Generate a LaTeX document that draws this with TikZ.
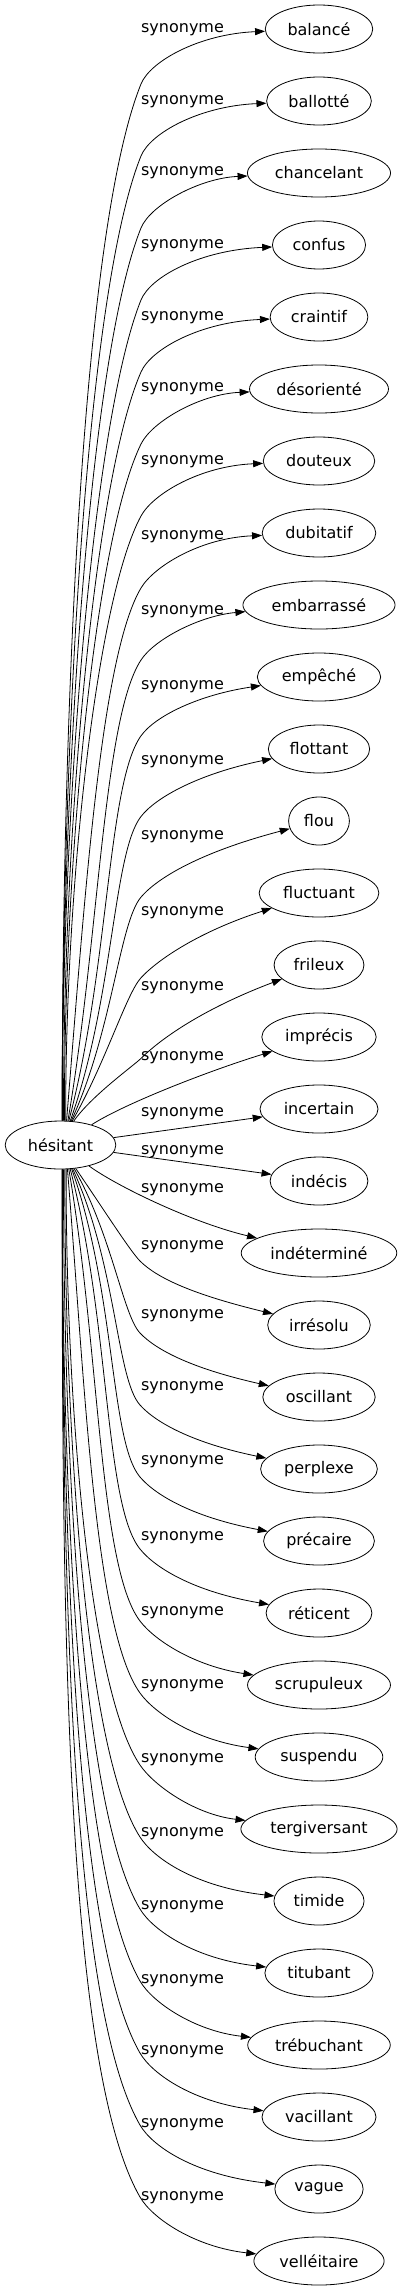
\documentclass[tikz,border=0pt]{standalone}
\usepackage{fontspec}
\setmainfont{DejaVu Sans}
\usetikzlibrary{arrows.meta,shapes.geometric}
\begin{document}
\begin{tikzpicture}[x=1pt,y=-1pt,
  word/.style={draw, ellipse, line width=0.8pt, inner xsep=6.5pt, inner ysep=2pt,
    minimum height=48pt, font=\fontsize{16}{19}\selectfont},
  lab/.style={font=\fontsize{16}{19}\selectfont, inner sep=0pt},
  link/.style={line width=0.8pt, -{Triangle[length=10pt,width=7pt]}}]
\useasboundingbox (0,0) rectangle (403,2291);
\node[word] (h) at (60.5,1145) {hésitant};
\foreach \i/\txt/\ly in {0/balancé/30, 1/ballotté/102, 2/chancelant/173, 3/confus/246,
  4/craintif/318, 5/désorienté/389, 6/douteux/462, 7/dubitatif/537, 8/embarrassé/612,
  9/empêché/687, 10/flottant/762, 11/flou/837, 12/fluctuant/913, 13/frileux/988,
  14/imprécis/1058, 15/incertain/1114, 16/indécis/1152, 17/indéterminé/1190,
  18/irrésolu/1247, 19/oscillant/1316, 20/perplexe/1388, 21/précaire/1462,
  22/réticent/1538, 23/scrupuleux/1613, 24/suspendu/1686, 25/tergiversant/1760,
  26/timide/1834, 27/titubant/1907, 28/trébuchant/1981, 29/vacillant/2052,
  30/vague/2125, 31/velléitaire/2198} {
  \node[word] (n\i) at (319,{29+72*\i}) {\txt};
  \node[lab] (l\i) at (182.5,\ly) {synonyme};
}
% upper edges
\foreach \i in {0,...,13} {
  \pgfmathsetmacro\myyT{29+72*\i}
  \pgfmathsetmacro\myA{1145-\myyT}
  \pgfmathsetmacro\myKy{\myyT+55+0.12*max(0,500-\myA)}
  \pgfmathsetmacro\myth{45+23*min(1,(\myA-180)/700)}
  \pgfmathsetmacro\mys{1.5+11*max(0,(900-\myA)/720)}
  \pgfmathsetmacro\myry{24*sqrt(1-(\mys/56.5)^2)}
  \pgfmathsetmacro\myal{atan2(\myry,\mys)}
  \pgfmathsetmacro\mySy{1145-\myry}
  \pgfmathsetmacro\mySx{60.5+\mys}
  \pgfmathsetmacro\myHh{\mySy-\myKy}
  \pgfmathsetmacro\mybe{55+35*min(1,(\myA-180)/500)}
  \pgfmathsetmacro\myCax{\mySx+0.4*\myHh*cos(\mybe)/sin(\mybe)}
  \pgfmathsetmacro\myCay{\mySy-0.4*\myHh}
  \pgfmathsetmacro\myCbx{141-0.15*\myHh*cos(\myth)}
  \pgfmathsetmacro\myCby{\myKy+0.15*\myHh*sin(\myth)}
  \pgfmathsetmacro\myCcx{141+25*cos(\myth)}
  \pgfmathsetmacro\myCcy{\myKy-25*sin(\myth)}
  \pgfmathsetmacro\myCdy{\myyT+5+40*max(0,(600-\myA)/420)}
  \draw[link] (h.\myal) .. controls (\myCax,\myCay) and (\myCbx,\myCby) .. (141,\myKy)
     .. controls (\myCcx,\myCcy) and (200,\myCdy) .. (n\i);
}
% central edges
\draw[link] (h) .. controls (122,1105) and (205,1072) .. (n14);
\draw[link] (h) -- (n15);
\draw[link] (h) -- (n16);
\draw[link] (h) .. controls (115,1185) and (190,1222) .. (n17);
% lower edges
\foreach \i in {18,...,31} {
  \pgfmathsetmacro\myyT{29+72*\i}
  \pgfmathsetmacro\myA{\myyT-1145}
  \pgfmathsetmacro\myKy{\myyT-64}
  \pgfmathsetmacro\myth{45+15*min(1,(\myA-180)/700)}
  \pgfmathsetmacro\mys{1.5+13*max(0,(900-\myA)/720)}
  \pgfmathsetmacro\myry{24*sqrt(1-(\mys/56.5)^2)}
  \pgfmathsetmacro\myal{atan2(\myry,\mys)}
  \pgfmathsetmacro\mySy{1145+\myry}
  \pgfmathsetmacro\mySx{60.5+\mys}
  \pgfmathsetmacro\myHh{\myKy-\mySy}
  \pgfmathsetmacro\mybe{55+35*min(1,(\myA-180)/500)}
  \pgfmathsetmacro\myCax{\mySx+0.4*\myHh*cos(\mybe)/sin(\mybe)}
  \pgfmathsetmacro\myCay{\mySy+0.4*\myHh}
  \pgfmathsetmacro\myCbx{140-0.15*\myHh*cos(\myth)}
  \pgfmathsetmacro\myCby{\myKy-0.15*\myHh*sin(\myth)}
  \pgfmathsetmacro\myCcx{140+25*cos(\myth)}
  \pgfmathsetmacro\myCcy{\myKy+25*sin(\myth)}
  \pgfmathsetmacro\myCdy{\myyT-14-16*max(0,(700-\myA)/520)}
  \draw[link] (h.-\myal) .. controls (\myCax,\myCay) and (\myCbx,\myCby) .. (140,\myKy)
     .. controls (\myCcx,\myCcy) and (195,\myCdy) .. (n\i);
}
\end{tikzpicture}
\end{document}
